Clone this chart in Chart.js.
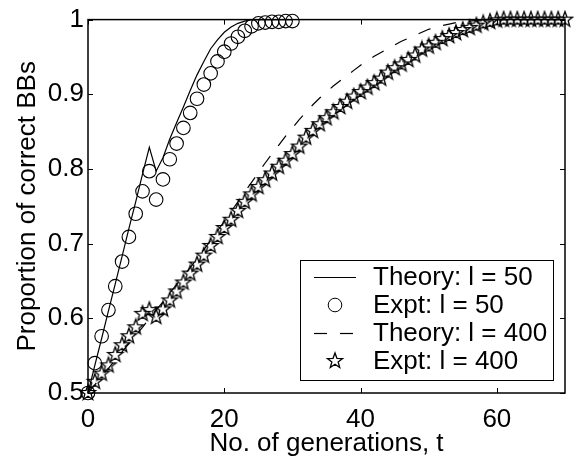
<!DOCTYPE html>
<html>
<head>
<meta charset="utf-8">
<script src="https://cdn.jsdelivr.net/npm/chart.js@4.4.0/dist/chart.umd.min.js"></script>
<style>
html, body { margin: 0; padding: 0; background: #fff; }
</style>
</head>
<body>
<canvas id="chart" width="577" height="459"></canvas>
<script>
// generations for the l = 50 runs, and for the l = 400 runs
const gens50 = [0,1,2,3,4,5,6,7,8,9,10,11,12,13,14,15,16,17,18,19,20,21,22,23,24,25,26,27,28,29,30];
const gens400 = [0,1,2,3,4,5,6,7,8,9,10,11,12,13,14,15,16,17,18,19,20,21,22,23,24,25,26,27,28,29,30,
    31,32,33,34,35,36,37,38,39,40,41,42,43,44,45,46,47,48,49,50,51,52,53,54,55,56,57,58,59,60,
    61,62,63,64,65,66,67,68,69,70];

const theory50 = [0.500,0.537,0.573,0.610,0.646,0.683,0.720,0.756,0.793,0.829,0.797,0.815,0.840,0.862,0.883,
    0.905,0.926,0.944,0.961,0.973,0.983,0.990,0.995,0.998,1.000,1.000,1.000,1.000,1.000,1.000,1.000];
const expt50 = [0.500,0.540,0.576,0.611,0.643,0.676,0.709,0.740,0.770,0.797,0.759,0.786,0.813,0.834,0.855,
    0.875,0.894,0.913,0.928,0.944,0.957,0.968,0.977,0.985,0.991,0.995,0.996,0.997,0.997,0.998,0.998];

const theory400 = [0.500,0.511,0.522,0.533,0.544,0.555,0.566,0.577,0.588,0.600,0.611,0.622,0.634,0.645,0.657,
    0.668,0.680,0.692,0.704,0.717,0.730,0.743,0.756,0.769,0.782,0.795,0.808,0.820,0.832,0.844,
    0.855,0.866,0.876,0.886,0.895,0.903,0.911,0.918,0.925,0.932,0.939,0.945,0.951,0.956,0.961,
    0.966,0.971,0.975,0.979,0.983,0.987,0.990,0.992,0.994,0.996,0.997,0.998,0.999,1.000,1.000,
    1.000,1.000,1.000,1.000,1.000,1.000,1.000,1.000,1.000,1.000,1.000];
const expt400 = [0.500,0.515,0.526,0.537,0.551,0.564,0.576,0.588,0.606,0.611,0.602,0.612,0.624,0.636,0.648,
    0.660,0.672,0.684,0.697,0.709,0.721,0.732,0.744,0.756,0.766,0.776,0.785,0.794,0.803,0.811,
    0.820,0.830,0.842,0.851,0.860,0.868,0.876,0.883,0.890,0.897,0.903,0.909,0.915,0.921,0.929,
    0.935,0.940,0.946,0.952,0.960,0.964,0.969,0.974,0.978,0.982,0.986,0.989,0.992,0.995,0.997,
    0.999,1.000,1.000,1.000,1.000,1.000,1.000,1.000,1.000,1.000,1.000];

const xTicks = [0, 20, 40, 60];
const yTicks = [0.5, 0.6, 0.7, 0.8, 0.9, 1];
const labels = ['Theory: l = 50', 'Expt: l = 50', 'Theory: l = 400', 'Expt: l = 400'];

const FONT = { family: '"Liberation Sans", Arial, Helvetica, sans-serif', size: 26 };

// hollow five-point star marker
function makeStar(outer, inner) {
    const s = Math.ceil(outer * 2 + 4);
    const cv = document.createElement('canvas');
    cv.width = s; cv.height = s;
    const g = cv.getContext('2d');
    g.translate(s / 2, s / 2);
    g.beginPath();
    for (let i = 0; i < 10; i++) {
        const r = i % 2 ? inner : outer;
        const a = -Math.PI / 2 + i * Math.PI / 5;
        if (i === 0) g.moveTo(r * Math.cos(a), r * Math.sin(a));
        else g.lineTo(r * Math.cos(a), r * Math.sin(a));
    }
    g.closePath();
    g.strokeStyle = '#000';
    g.lineWidth = 1.3;
    g.lineJoin = 'miter';
    g.stroke();
    return cv;
}
const star = makeStar(8, 3.3);

const pts = (xs, ys) => xs.map((x, i) => ({ x, y: ys[i] }));

// box round the plot with inward tick marks on all four sides
const boxPlugin = {
    id: 'box',
    beforeDatasetsDraw(chart) {
        const { ctx, chartArea: a, scales: { x, y } } = chart;
        ctx.save();
        ctx.strokeStyle = '#000';
        ctx.lineWidth = 1.5;
        ctx.strokeRect(a.left, a.top, a.right - a.left, a.bottom - a.top);
        ctx.lineWidth = 1;
        ctx.beginPath();
        xTicks.forEach(v => {
            const px = Math.round(x.getPixelForValue(v)) + 0.5;
            ctx.moveTo(px, a.bottom); ctx.lineTo(px, a.bottom - 5);
            ctx.moveTo(px, a.top); ctx.lineTo(px, a.top + 5);
        });
        yTicks.forEach(v => {
            const py = Math.round(y.getPixelForValue(v)) + 0.5;
            ctx.moveTo(a.left, py); ctx.lineTo(a.left + 5, py);
            ctx.moveTo(a.right, py); ctx.lineTo(a.right - 5, py);
        });
        ctx.stroke();
        ctx.restore();
    }
};

const legendPlugin = {
    id: 'boxLegend',
    afterDatasetsDraw(chart) {
        const { ctx, chartArea: a } = chart;
        const right = a.right - 12, bottom = a.bottom - 13;
        const left = 300, top = 260;
        ctx.save();
        ctx.fillStyle = '#fff';
        ctx.fillRect(left, top, right - left, bottom - top);
        ctx.strokeStyle = '#000';
        ctx.lineWidth = 1;
        ctx.strokeRect(left + 0.5, top + 0.5, right - left, bottom - top);
        ctx.font = `${FONT.size}px ${FONT.family}`;
        ctx.textBaseline = 'middle';
        ctx.fillStyle = '#000';
        chart.data.datasets.forEach((ds, i) => {
            const cy = top + 17 + i * 28;
            const cx = left + 35;
            ctx.beginPath();
            if (ds.showLine) {
                ctx.setLineDash(ds.borderDash || []);
                ctx.lineWidth = ds.borderWidth;
                ctx.moveTo(left + 14, cy + 0.5); ctx.lineTo(left + 56, cy + 0.5);
                ctx.stroke();
                ctx.setLineDash([]);
            } else if (ds.pointStyle === 'circle') {
                ctx.lineWidth = 1;
                ctx.arc(cx, cy, ds.pointRadius, 0, Math.PI * 2);
                ctx.stroke();
            } else {
                ctx.drawImage(ds.pointStyle, cx - ds.pointStyle.width / 2, cy - ds.pointStyle.height / 2);
            }
            ctx.fillText(ds.label, left + 73, cy + 1);
        });
        ctx.restore();
    }
};

new Chart(document.getElementById('chart'), {
    type: 'scatter',
    data: {
        datasets: [
            { label: labels[0], data: pts(gens50, theory50), showLine: true, borderColor: '#000',
              borderWidth: 1.2, pointRadius: 0, clip: false },
            { label: labels[1], data: pts(gens50, expt50), showLine: false, pointStyle: 'circle',
              pointRadius: 6.8, pointBorderWidth: 1.1, pointBorderColor: '#000',
              pointBackgroundColor: 'rgba(0,0,0,0)', clip: false },
            { label: labels[2], data: pts(gens400, theory400), showLine: true, borderColor: '#000',
              borderWidth: 1.2, borderDash: [13, 13], pointRadius: 0, clip: false },
            { label: labels[3], data: pts(gens400, expt400), showLine: false, pointStyle: star,
              pointRadius: 7, clip: false }
        ]
    },
    options: {
        responsive: false,
        animation: false,
        devicePixelRatio: 1,
        layout: { padding: { top: 18, right: 12, left: 0, bottom: 0 } },
        plugins: { legend: { display: false }, tooltip: { enabled: false } },
        scales: {
            x: {
                type: 'linear', min: 0, max: 70,
                grid: { display: false, drawTicks: false }, border: { display: false },
                afterBuildTicks: s => { s.ticks = xTicks.map(v => ({ value: v })); },
                ticks: { color: '#000', font: FONT, padding: 11, maxRotation: 0 },
                title: { display: true, text: 'No. of generations, t', color: '#000', font: FONT,
                         padding: { top: 0, bottom: 0 } },
                afterFit: s => { s.height = 66; }
            },
            y: {
                type: 'linear', min: 0.5, max: 1,
                grid: { display: false, drawTicks: false }, border: { display: false },
                afterBuildTicks: s => { s.ticks = yTicks.map(v => ({ value: v })); },
                ticks: { color: '#000', font: FONT, padding: 4,
                         callback: v => String(Math.round(v * 10) / 10) },
                title: { display: true, text: 'Proportion of correct BBs', color: '#000', font: FONT,
                         padding: { top: 12, bottom: 0 } },
                afterFit: s => { s.width = 88; }
            }
        }
    },
    plugins: [boxPlugin, legendPlugin]
});
</script>
</body>
</html>
